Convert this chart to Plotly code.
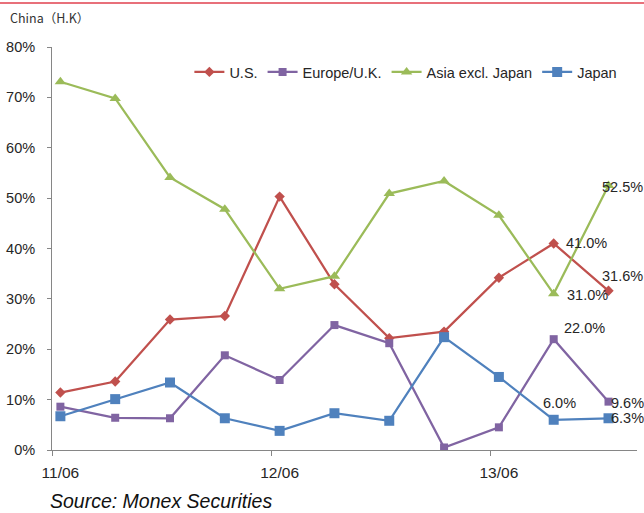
import plotly.graph_objects as go

# Survey periods (YY/MM) and share of respondents picking each region
periods = ["11/06", "11/09", "11/12", "12/03", "12/06", "12/09",
           "12/12", "13/03", "13/06", "13/09", "13/12"]

us = [11.4, 13.6, 25.9, 26.6, 50.3, 32.9, 22.2, 23.5, 34.2, 41.0, 31.6]
europe_uk = [8.6, 6.4, 6.3, 18.8, 13.9, 24.8, 21.2, 0.5, 4.5, 22.0, 9.6]
asia_ex_japan = [73.1, 69.8, 54.1, 47.8, 32.0, 34.5, 50.9, 53.4, 46.6, 31.0, 52.5]
japan = [6.7, 10.1, 13.4, 6.3, 3.8, 7.3, 5.8, 22.4, 14.5, 6.0, 6.3]

y_ticks = [0, 10, 20, 30, 40, 50, 60, 70, 80]

x = list(range(len(periods)))
label_idx = [i for i, p in enumerate(periods) if p.endswith("/06")]

series = [
    ("U.S.", us, "#C0504D", "diamond", 8),
    ("Europe/U.K.", europe_uk, "#8064A2", "square", 8),
    ("Asia excl. Japan", asia_ex_japan, "#9BBB59", "triangle-up", 10),
    ("Japan", japan, "#4F81BD", "square", 10),
]

# pixel offsets (dx, dy) of the value labels on the last two points
label_offsets = {
    "U.S.": [(10, 0), (-9, 15)],
    "Europe/U.K.": [(8, 11), (0, -1)],
    "Asia excl. Japan": [(11, -1), (-9, -1)],
    "Japan": [(-13, 17), (0, 0)],
}

fig = go.Figure()
annotations = []
for name, vals, color, symbol, size in series:
    fig.add_trace(go.Scatter(
        x=x, y=vals, name=name, mode="lines+markers",
        line=dict(color=color, width=2.25),
        marker=dict(symbol=symbol, size=size, color=color),
    ))
    for k, (dx, dy) in zip((-2, -1), label_offsets[name]):
        annotations.append(dict(
            x=x[k], y=vals[k], xref="x", yref="y",
            text=f"{vals[k]:.1f}%", showarrow=False,
            xanchor="left", yanchor="middle", xshift=dx, yshift=dy,
            font=dict(family="Liberation Sans", size=14.5, color="#262626"),
        ))

annotations.append(dict(
    x=-0.076, y=1.074, xref="paper", yref="paper", text="China（H.K）",
    showarrow=False, xanchor="left", yanchor="middle",
    font=dict(family="Noto Sans CJK JP", size=12.5, color="#333333"),
))
annotations.append(dict(
    x=-0.007, y=-0.127, xref="paper", yref="paper",
    text="<i>Source: Monex Securities</i>",
    showarrow=False, xanchor="left", yanchor="middle",
    font=dict(family="Liberation Sans", size=19.5, color="#111111"),
))

axis_color = "#868686"
fig.update_layout(
    width=644, height=513,
    margin=dict(l=52, r=7, t=47, b=63),
    paper_bgcolor="white", plot_bgcolor="white",
    font=dict(family="Liberation Sans", color="#262626"),
    showlegend=True,
    legend=dict(
        orientation="h", x=0.975, xanchor="right", y=0.938, yanchor="middle",
        font=dict(size=14.5, color="#262626"), bgcolor="rgba(0,0,0,0)",
        itemwidth=30, tracegroupgap=0,
    ),
    xaxis=dict(
        range=[-0.153, 10.52], tickmode="array", tickvals=label_idx,
        ticktext=[periods[i] for i in label_idx], ticks="",
        showline=True, linecolor=axis_color, linewidth=1,
        showgrid=False, zeroline=False,
        tickfont=dict(size=15.5, color="#262626"), ticklabelstandoff=8,
        minor=dict(tickmode="array", tickvals=[i - 0.153 for i in label_idx],
                   ticks="outside", ticklen=5, tickcolor=axis_color,
                   showgrid=False),
    ),
    yaxis=dict(
        range=[0, 80], tickmode="array", tickvals=y_ticks,
        ticktext=[f"{v}%" for v in y_ticks], ticks="outside", ticklen=4,
        tickcolor=axis_color, showline=True, linecolor=axis_color,
        linewidth=1, showgrid=False, zeroline=False,
        tickfont=dict(size=14.5, color="#262626"), ticklabelstandoff=9,
    ),
    annotations=annotations,
    shapes=[dict(type="line", xref="paper", yref="paper",
                 x0=-0.09, x1=1.02, y0=1.109, y1=1.109,
                 line=dict(color="#E8707A", width=2))],
)

fig.write_html("out.html")
